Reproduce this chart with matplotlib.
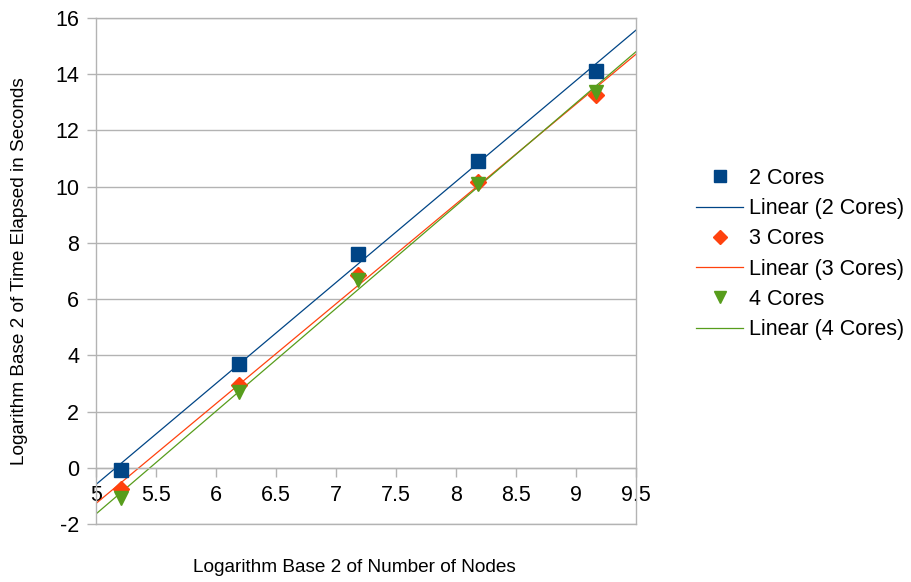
import numpy as np
import matplotlib
matplotlib.use("Agg")
from matplotlib import pyplot as plt

plt.rcParams['font.family'] = ['Liberation Sans', 'DejaVu Sans']
plt.rcParams['axes.unicode_minus'] = False

# log2 of node counts
nodes_log2 = [5.21, 6.19, 7.18, 8.18, 9.17]

# log2 of elapsed time per core count
cores_2 = [-0.07, 3.70, 7.62, 10.92, 14.12]
cores_3 = [-0.75, 2.95, 6.87, 10.15, 13.25]
cores_4 = [-1.07, 2.70, 6.67, 10.08, 13.35]

series = [
    ("2 Cores", cores_2, "s", "#004586", 10.5),
    ("3 Cores", cores_3, "D", "#ff420e", 8.5),
    ("4 Cores", cores_4, "v", "#579d1c", 10.5),
]

fs = 13.7

fig = plt.figure(figsize=(9.12, 5.82), dpi=100)
ax = fig.add_axes([96 / 912, 58 / 582, 540 / 912, 506 / 582])

x_fit = np.array([5.0, 9.5])
for name, values, marker, color, ms in series:
    ax.plot(nodes_log2, values, linestyle="none", marker=marker, color=color,
            markersize=ms, label=name, zorder=3)
    slope, icpt = np.polyfit(nodes_log2, values, 1)
    ax.plot(x_fit, slope * x_fit + icpt, color=color, linewidth=0.9,
            label="Linear (%s)" % name, zorder=2)

ax.set_xlim(5, 9.5)
ax.set_ylim(-2, 16)
ax.set_xticks(np.arange(5, 9.51, 0.5))
ax.set_xticklabels(["5", "5.5", "6", "6.5", "7", "7.5", "8", "8.5", "9", "9.5"])
ax.set_yticks(np.arange(-2, 16.1, 2))

ax.yaxis.grid(True, color="#b3b3b3", linewidth=1)
ax.set_axisbelow(True)
# bottom frame edge (the x axis itself sits at y = 0)
ax.axhline(-2, color="#b3b3b3", linewidth=1, clip_on=False, zorder=0)

ax.spines['bottom'].set_position(('data', 0))
for s in ['bottom', 'left', 'right', 'top']:
    ax.spines[s].set_color("#b3b3b3")
    ax.spines[s].set_linewidth(1)
ax.tick_params(axis='both', colors="#b3b3b3", labelcolor="black",
               labelsize=15.5, length=6.5, width=1)
ax.tick_params(axis='x', pad=6)
ax.tick_params(axis='y', pad=5.5)

fig.text(20 / 912, 1 - 271 / 582, "Logarithm Base 2 of Time Elapsed in Seconds",
         rotation=90, ha="center", va="center", fontsize=fs)
fig.text(354 / 912, 1 - 568 / 582, "Logarithm Base 2 of Number of Nodes",
         ha="center", va="center", fontsize=fs)

handles, labels = ax.get_legend_handles_labels()
leg = fig.legend(handles, labels,
                 loc="center left", bbox_to_anchor=(696 / 912, 1 - 254 / 582),
                 frameon=False, fontsize=15.5, handlelength=2.2,
                 handletextpad=0.28, labelspacing=0.43, markerscale=0.85,
                 borderpad=0, borderaxespad=0)

fig.savefig("out.png", dpi=100)
